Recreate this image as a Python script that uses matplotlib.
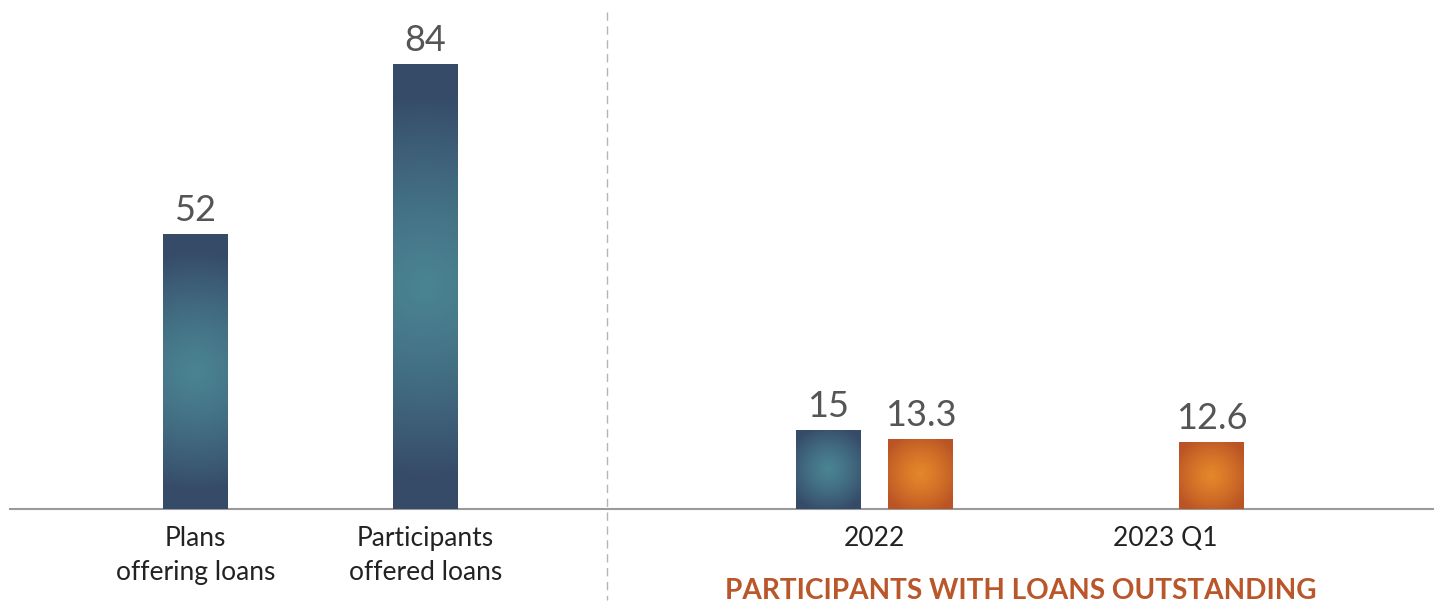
import numpy as np
import matplotlib
matplotlib.use("Agg")
import matplotlib.pyplot as plt
from matplotlib.lines import Line2D
from matplotlib.colors import to_rgb

# ---------------- data ----------------
left_categories = ["Plans\noffering loans", "Participants\noffered loans"]
left_values = [52, 84]

right_categories = ["2022", "2023 Q1"]
right_blue = [15, None]
right_orange = [13.3, 12.6]
right_title = "PARTICIPANTS WITH LOANS OUTSTANDING"

# ---------------- style ----------------
W, H, DPI = 1437, 602, 100
BLUE_EDGE, BLUE_CENTER = "#364b68", "#4a8392"
ORANGE_EDGE, ORANGE_CENTER = "#bb5425", "#e4862a"
VALUE_COLOR = "#555555"
LABEL_COLOR = "#222222"
TITLE_COLOR = "#b9562a"
FONT = ["Lato", "DejaVu Sans"]

plt.rcParams["font.family"] = FONT

fig = plt.figure(figsize=(W / DPI, H / DPI), dpi=DPI)
ax_left_px, ax_right_px = 10, 1433
base_px, top_px = 509, 12
ax = fig.add_axes([ax_left_px / W, (H - base_px) / H,
                   (ax_right_px - ax_left_px) / W, (base_px - top_px) / H])
ax.set_xlim(ax_left_px, ax_right_px)
px_per_unit = 5.298
ax.set_ylim(0, (base_px - top_px) / px_per_unit)

for s in ["top", "right", "left"]:
    ax.spines[s].set_visible(False)
ax.spines["bottom"].set_color("#9a9a9a")
ax.spines["bottom"].set_linewidth(1.5)
ax.set_yticks([])
ax.tick_params(axis="x", length=0, pad=12)

bar_w = 65
# layout positions (pixels along x)
left_start, left_step = 195.5, 230
right_start, right_step, offset = 874.5, 291, 46

left_x = [left_start + i * left_step for i in range(len(left_values))]
right_group_x = [right_start + i * right_step for i in range(len(right_categories))]


def gradient_bar(x, val, c_edge, c_center):
    bars = ax.bar([x], [val], width=bar_w, color=c_edge, linewidth=0, zorder=2)
    patch = bars[0]
    w_px = bar_w
    h_px = val * px_per_unit
    ny, nx = 200, 60
    u = np.linspace(-1, 1, nx)
    v = np.linspace(-1, 1, ny)
    U, V = np.meshgrid(u, v)
    d = np.sqrt((U * w_px / 2) ** 2 + (V * h_px / 2) ** 2)
    R = 0.85 * np.sqrt((w_px / 2) ** 2 + (h_px / 2) ** 2)
    t = np.clip(d / R, 0, 1)
    t = t ** 1.3
    ce, cc = np.array(to_rgb(c_edge)), np.array(to_rgb(c_center))
    img = cc[None, None, :] * (1 - t[..., None]) + ce[None, None, :] * t[..., None]
    im = ax.imshow(img, extent=(x - bar_w / 2, x + bar_w / 2, 0, val),
                   aspect="auto", origin="lower", zorder=3, interpolation="bilinear")
    im.set_clip_path(patch)
    label = f"{val:g}"
    ax.annotate(label, (x, val), xytext=(0, 5), textcoords="offset points",
                ha="center", va="bottom", fontsize=26, color=VALUE_COLOR, zorder=4)


for x, v in zip(left_x, left_values):
    gradient_bar(x, v, BLUE_EDGE, BLUE_CENTER)

for gx, b, o in zip(right_group_x, right_blue, right_orange):
    if b is not None:
        gradient_bar(gx - offset, b, BLUE_EDGE, BLUE_CENTER)
    if o is not None:
        gradient_bar(gx + offset, o, ORANGE_EDGE, ORANGE_CENTER)

ax.set_xticks(left_x + right_group_x)
ax.set_xticklabels(left_categories + right_categories, fontsize=19,
                   color=LABEL_COLOR, linespacing=1.45)

# dashed separator
sep_x = 607
fig.add_artist(Line2D([sep_x / W, sep_x / W], [1 - 12 / H, 1 - 600 / H],
                      transform=fig.transFigure, color="#b5b5b5", lw=1,
                      linestyle=(0, (6, 4))))

fig.text(1021 / W, 1 - 591 / H, right_title, ha="center", va="center",
         fontsize=20.2, fontweight="bold", color=TITLE_COLOR)

fig.savefig("out.png", dpi=DPI)
